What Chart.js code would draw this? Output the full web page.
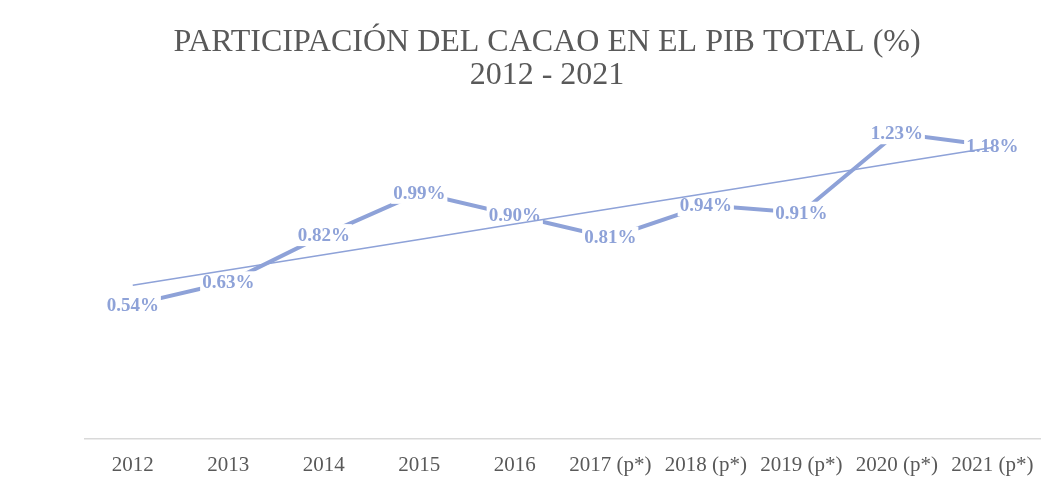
<!DOCTYPE html>
<html>
<head>
<meta charset="utf-8">
<script src="https://cdn.jsdelivr.net/npm/chart.js@4.4.1/dist/chart.umd.min.js"></script>
<style>
  html, body { margin: 0; padding: 0; background: #fff; }
  #wrap { width: 1052px; height: 498px; }
</style>
</head>
<body>
<div id="wrap"><canvas id="pib"></canvas></div>
<script>
// ===== PARTICIPACION DEL CACAO EN EL PIB =====

const YEARS = ['2012', '2013', '2014', '2015', '2016', '2017 (p*)', '2018 (p*)', '2019 (p*)', '2020 (p*)', '2021 (p*)'];
const SHARE = [0.54, 0.63, 0.82, 0.99, 0.90, 0.81, 0.94, 0.91, 1.23, 1.18];
const TITLE = ['PARTICIPACIÓN DEL CACAO EN EL PIB TOTAL (%)', '2012 - 2021'];

const LINE_COLOR = '#8EA2D8';
const TEXT_GRAY = '#595959';
const SERIF = '"Liberation Serif", "Times New Roman", serif';

// linear trendline (least squares, like Excel)
const n = SHARE.length;
const mx = (n - 1) / 2;
const my = SHARE.reduce((a, b) => a + b, 0) / n;
let sxy = 0, sxx = 0;
SHARE.forEach((v, i) => { sxy += (i - mx) * (v - my); sxx += (i - mx) * (i - mx); });
const slope = sxy / sxx;
const TREND = SHARE.map((v, i) => my + slope * (i - mx));

// labels with white box, drawn over the data line but under the trendline
const boxLabels = {
  id: 'boxLabels',
  afterDatasetDraw(chart, args) {
    if (args.index !== 1) return;
    const ctx = chart.ctx;
    ctx.save();
    ctx.font = 'bold 19px ' + SERIF;
    ctx.textAlign = 'center';
    ctx.textBaseline = 'middle';
    args.meta.data.forEach((pt, i) => {
      const txt = SHARE[i].toFixed(2) + '%';
      const w = ctx.measureText(txt).width;
      ctx.fillStyle = '#fff';
      ctx.fillRect(pt.x - w / 2 - 2, pt.y - 11, w + 4, 22);
      ctx.fillStyle = LINE_COLOR;
      ctx.fillText(txt, pt.x, pt.y + 1);
    });
    ctx.restore();
  }
};

// title centred like the original (not over the plot area)
const topTitle = {
  id: 'topTitle',
  afterDraw(chart) {
    const ctx = chart.ctx;
    ctx.save();
    ctx.font = '32px ' + SERIF;
    ctx.fillStyle = TEXT_GRAY;
    ctx.textAlign = 'center';
    ctx.textBaseline = 'middle';
    ctx.fillText(TITLE[0], 547, 43);
    ctx.fillText(TITLE[1], 547, 76);
    ctx.restore();
  }
};

new Chart(document.getElementById('pib'), {
  type: 'line',
  data: {
    labels: YEARS,
    datasets: [
      { label: 'Tendencia', data: TREND, borderColor: LINE_COLOR, borderWidth: 1.5, pointRadius: 0, fill: false, tension: 0 },
      { label: 'PIB', data: SHARE, borderColor: LINE_COLOR, borderWidth: 4, pointRadius: 0, fill: false, tension: 0 }
    ]
  },
  options: {
    responsive: true,
    maintainAspectRatio: false,
    animation: false,
    layout: { padding: { left: 85, right: 12, top: 91, bottom: 6 } },
    plugins: {
      legend: { display: false },
      tooltip: { enabled: false },
      title: { display: false }
    },
    scales: {
      x: {
        offset: true,
        grid: { display: false, drawTicks: false },
        border: { color: '#D9D9D9', width: 1.5 },
        ticks: { color: TEXT_GRAY, padding: 14, maxRotation: 0, autoSkip: false, font: { family: SERIF, size: 21 } }
      },
      y: { display: false, min: 0, max: 1.4 }
    }
  },
  plugins: [boxLabels, topTitle]
});
</script>
</body>
</html>
